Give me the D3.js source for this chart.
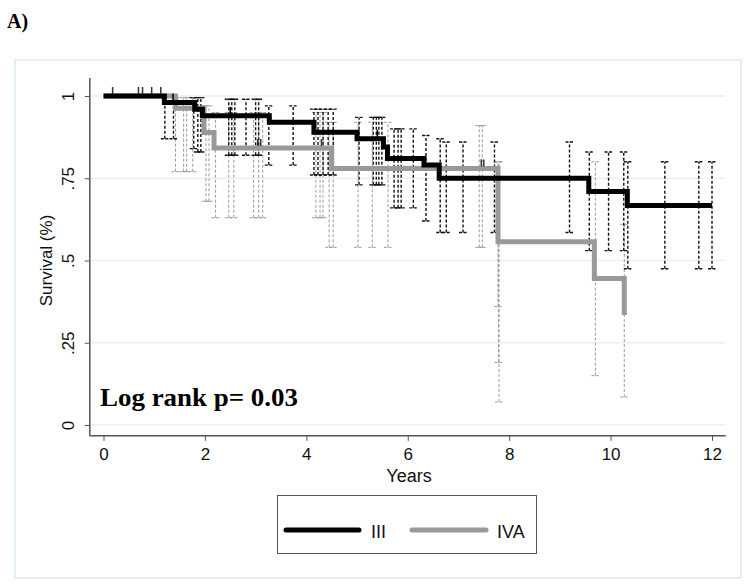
<!DOCTYPE html>
<html><head><meta charset="utf-8">
<script src="https://cdn.jsdelivr.net/npm/d3@7"></script>
<style>
html,body{margin:0;padding:0;background:#fff;}
svg{display:block;}
text{font-family:"Liberation Sans",Arial,sans-serif;}
</style></head>
<body>
<svg id="chart" width="754" height="587"></svg>
<script>
// ---- Data ----
const groups = ["III", "IVA"];
// Kaplan-Meier step functions (time in years, survival)
const iiiTime = [0, 1.2, 1.8, 1.95, 3.27, 4.15, 5.0, 5.52, 5.6, 6.32, 6.62, 9.57, 10.33, 12.0];
const iiiSurv = [1, 0.98, 0.96, 0.94, 0.92, 0.89, 0.87, 0.845, 0.81, 0.79, 0.75, 0.71, 0.667, 0.667];
const ivaTime = [0, 1.42, 1.98, 2.18, 4.5, 7.78, 9.68, 10.27];
const ivaSurv = [1, 0.963, 0.889, 0.842, 0.78, 0.557, 0.445, 0.334];
// Confidence-interval bars (time, lower, upper)
const iiiCiTime = [1.21, 1.38, 1.78, 1.86, 1.92, 2.47, 2.53, 2.59, 2.81, 3.0, 3.06, 3.26, 3.74, 4.15, 4.23, 4.33, 4.43, 4.53,
  5.04, 5.32, 5.38, 5.43, 5.49, 5.73, 5.81, 5.87, 6.11, 6.36, 6.64, 6.76, 7.09, 7.71, 9.19, 9.58, 9.96, 10.26, 10.34, 11.07, 11.74, 12.0];
const iiiCiLow = [0.87, 0.87, 0.84, 0.83, 0.83, 0.82, 0.82, 0.82, 0.82, 0.82, 0.82, 0.79, 0.79, 0.76, 0.76, 0.76, 0.76, 0.76,
  0.73, 0.73, 0.73, 0.73, 0.73, 0.66, 0.66, 0.66, 0.66, 0.62, 0.585, 0.585, 0.585, 0.585, 0.585, 0.53, 0.53, 0.53, 0.475, 0.475, 0.475, 0.475];
const iiiCiHigh = [1.0, 1.0, 0.995, 0.995, 0.995, 0.99, 0.99, 0.99, 0.99, 0.99, 0.99, 0.97, 0.97, 0.96, 0.96, 0.96, 0.96, 0.96,
  0.935, 0.935, 0.935, 0.935, 0.935, 0.90, 0.90, 0.90, 0.90, 0.88, 0.87, 0.86, 0.86, 0.86, 0.86, 0.83, 0.83, 0.83, 0.80, 0.80, 0.80, 0.80];
const ivaCiTime = [1.42, 1.58, 1.64, 1.76, 2.02, 2.08, 2.21, 2.47, 2.57, 2.96, 3.06, 3.14, 4.19, 4.27, 4.33, 4.45, 4.53, 5.02, 5.30, 5.61,
  7.41, 7.47, 7.78, 7.79, 7.80, 9.70, 10.27];
const ivaCiLow = [0.77, 0.77, 0.77, 0.77, 0.68, 0.68, 0.63, 0.63, 0.63, 0.63, 0.63, 0.63, 0.63, 0.63, 0.63, 0.54, 0.54, 0.54, 0.54, 0.54,
  0.54, 0.54, 0.36, 0.19, 0.07, 0.15, 0.085];
const ivaCiHigh = [0.995, 0.995, 0.995, 0.995, 0.97, 0.97, 0.95, 0.95, 0.95, 0.95, 0.95, 0.95, 0.95, 0.95, 0.95, 0.92, 0.92, 0.92, 0.92, 0.92,
  0.91, 0.91, 0.80, 0.80, 0.80, 0.80, 0.61];
// Censoring tick marks
const ivaCensor = [0.18, 0.69, 0.77, 0.95, 1.13, 3.04, 3.1, 4.3, 7.45, 7.5];
const iiiCensor = [1.37, 2.5, 5.4];
// Axis ticks
const xTicks = [0, 2, 4, 6, 8, 10, 12];
const yTicks = [0, 0.25, 0.5, 0.75, 1];
const yTickLabels = ["0", ".25", ".5", ".75", "1"];
const colors = {"III": "#000000", "IVA": "#999999"};

// ---- Drawing ----
const svg = d3.select("#chart");
const x = d3.scaleLinear().domain([0, 12]).range([103.5, 712]);
const y = d3.scaleLinear().domain([0, 1]).range([425, 96]);

// outer frame
svg.append("rect").attr("x", 15).attr("y", 60).attr("width", 726).attr("height", 518)
  .attr("fill", "#fff").attr("stroke", "#e4eff1").attr("stroke-width", 2);

svg.append("text").text("A)").attr("x", 7).attr("y", 28)
  .style("font-family", "'Liberation Serif', 'Times New Roman', serif").style("font-weight", "bold").style("font-size", "20px");

const plotLeft = x(-0.27), plotRight = x(12.27), plotTop = y(1.055), plotBottom = y(-0.033);

// gridlines
svg.append("g").selectAll("line").data(yTicks).join("line")
  .attr("x1", plotLeft + 1).attr("x2", plotRight)
  .attr("y1", d => y(d)).attr("y2", d => y(d))
  .attr("stroke", "#e6f1f3").attr("stroke-width", 1.5);

// axes
const yAxis = d3.axisLeft(y).tickValues(yTicks).tickFormat((d, i) => yTickLabels[i]).tickSize(5).tickPadding(6);
const gy = svg.append("g").attr("transform", `translate(${plotLeft},0)`).call(yAxis);
gy.select(".domain").remove();
gy.append("line").attr("x1", 0).attr("x2", 0).attr("y1", plotTop).attr("y2", plotBottom).attr("stroke", "#555").attr("stroke-width", 1.5);
gy.selectAll(".tick line").attr("stroke", "#555");
gy.selectAll(".tick text").attr("x", null).attr("dy", null)
  .attr("text-anchor", "middle")
  .attr("transform", "translate(-16,0) rotate(-90)")
  .attr("y", 0)
  .style("font-size", "17px").style("font-family", "'Liberation Sans',Arial,sans-serif").attr("fill", "#111");

const xAxis = d3.axisBottom(x).tickValues(xTicks).tickFormat(d3.format("d")).tickSize(5).tickPadding(7);
const gx = svg.append("g").attr("transform", `translate(0,${plotBottom})`).call(xAxis);
gx.select(".domain").remove();
gx.append("line").attr("x1", plotLeft).attr("x2", plotRight).attr("y1", 0).attr("y2", 0).attr("stroke", "#555").attr("stroke-width", 1.5);
gx.selectAll(".tick line").attr("stroke", "#555");
gx.selectAll(".tick text").style("font-size", "17px").style("font-family", "'Liberation Sans',Arial,sans-serif").attr("fill", "#111");

svg.append("text").text("Years").attr("x", 409).attr("y", 482).attr("text-anchor", "middle")
  .style("font-size", "18px").attr("fill", "#111");
svg.append("text").text("Survival (%)").attr("transform", `translate(52,${y(0.5)}) rotate(-90)`)
  .attr("text-anchor", "middle").style("font-size", "17px").attr("fill", "#111");

// CI bars
function ciBars(times, lows, highs, color, width, dash) {
  const data = times.map((t, i) => ({t, lo: lows[i], hi: highs[i]}));
  const g = svg.append("g").attr("stroke", color).attr("stroke-width", width).attr("fill", "none");
  g.selectAll("line.v").data(data).join("line").attr("class", "v")
    .attr("x1", d => x(d.t)).attr("x2", d => x(d.t)).attr("y1", d => y(d.lo)).attr("y2", d => y(d.hi))
    .attr("stroke-dasharray", dash);
  g.selectAll("line.lo").data(data).join("line").attr("class", "lo")
    .attr("x1", d => x(d.t) - 4).attr("x2", d => x(d.t) + 4).attr("y1", d => y(d.lo)).attr("y2", d => y(d.lo))
    .attr("stroke-dasharray", "3,1.5");
  g.selectAll("line.hi").data(data).join("line").attr("class", "hi")
    .attr("x1", d => x(d.t) - 4).attr("x2", d => x(d.t) + 4).attr("y1", d => y(d.hi)).attr("y2", d => y(d.hi))
    .attr("stroke-dasharray", "3,1.5");
}
ciBars(ivaCiTime, ivaCiLow, ivaCiHigh, "#9a9a9a", 1, "3,2");
ciBars(iiiCiTime, iiiCiLow, iiiCiHigh, "#111", 1.4, "3,2");

// KM curves
const line = d3.line().x(d => x(d[0])).y(d => y(d[1])).curve(d3.curveStepAfter);
svg.append("path").datum(ivaTime.map((t, i) => [t, ivaSurv[i]]))
  .attr("d", line).attr("fill", "none").attr("stroke", colors["IVA"]).attr("stroke-width", 5);
svg.append("path").datum(iiiTime.map((t, i) => [t, iiiSurv[i]]))
  .attr("d", line).attr("fill", "none").attr("stroke", colors["III"]).attr("stroke-width", 5);

// censoring ticks
function stepValue(times, survs, t) {
  let s = survs[0];
  for (let i = 0; i < times.length; i++) if (times[i] <= t) s = survs[i];
  return s;
}
svg.append("g").selectAll("line").data(ivaCensor).join("line")
  .attr("x1", d => x(d)).attr("x2", d => x(d))
  .attr("y1", d => y(stepValue(ivaTime, ivaSurv, d)) - 2).attr("y2", d => y(stepValue(ivaTime, ivaSurv, d)) - 9)
  .attr("stroke", "#333").attr("stroke-width", 1.5);
svg.append("g").selectAll("line").data(iiiCensor).join("line")
  .attr("x1", d => x(d)).attr("x2", d => x(d))
  .attr("y1", d => y(stepValue(iiiTime, iiiSurv, d)) - 2).attr("y2", d => y(stepValue(iiiTime, iiiSurv, d)) - 9)
  .attr("stroke", "#000").attr("stroke-width", 1.5);

// Log rank annotation
svg.append("text").text("Log rank p= 0.03").attr("x", 100).attr("y", 406)
  .attr("textLength", 198).attr("lengthAdjust", "spacingAndGlyphs")
  .style("font-family", "'Liberation Serif','Times New Roman',serif").style("font-weight", "bold").style("font-size", "25px");

// legend
const lg = svg.append("g");
lg.append("rect").attr("x", 277.5).attr("y", 495.5).attr("width", 259).attr("height", 58)
  .attr("fill", "#fff").attr("stroke", "#555").attr("stroke-width", 1);
const legendItems = [{k: "III", x1: 286, x2: 359, tx: 371}, {k: "IVA", x1: 412, x2: 486, tx: 497}];
legendItems.forEach(it => {
  lg.append("line").attr("x1", it.x1).attr("x2", it.x2).attr("y1", 530).attr("y2", 530)
    .attr("stroke", colors[it.k]).attr("stroke-width", 5).attr("stroke-linecap", "round");
  lg.append("text").text(it.k).attr("x", it.tx).attr("y", 538).style("font-size", "18px").attr("fill", "#111");
});
</script>
</body></html>
